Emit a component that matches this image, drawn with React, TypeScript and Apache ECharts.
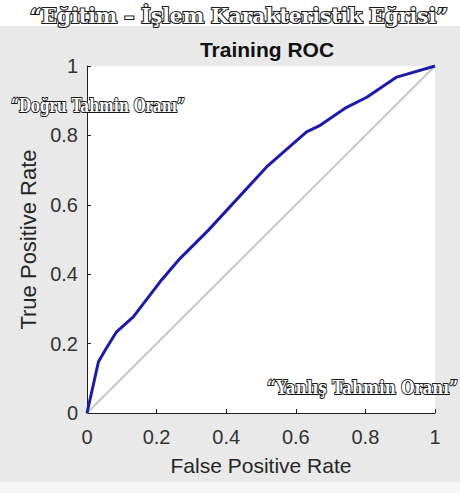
import React, { useEffect, useRef } from "react";
import * as echarts from "echarts";

const fpr = [0, 0.033, 0.052, 0.085, 0.133, 0.21, 0.267, 0.349, 0.516, 0.631, 0.67, 0.746, 0.804, 0.89, 1];
const tpr = [0, 0.148, 0.181, 0.234, 0.277, 0.378, 0.445, 0.527, 0.709, 0.81, 0.829, 0.881, 0.91, 0.968, 1];
const diagX = [0, 1];
const diagY = [0, 1];
const titleText = "Training ROC";
const xName = "False Positive Rate";
const yName = "True Positive Rate";
const topNote = "\u201cE\u011fitim \u2013 \u0130\u015flem Karakteristik E\u011frisi\u201d";
const leftNote = "\u201cDo\u011fru Tahmin Oran\u0131\u201d";
const bottomNote = "\u201cYanl\u0131\u015f Tahmin Oran\u0131\u201d";

const sans = "'Liberation Sans', Arial, sans-serif";
const noteFamily = "'DejaVu Serif', serif";

function measure(text: string, size: number): number {
  const ctx = document.createElement("canvas").getContext("2d");
  if (!ctx) return text.length * size * 0.6;
  ctx.font = `bold ${size}px ${noteFamily}`;
  return ctx.measureText(text).width;
}

export default function App() {
  const ref = useRef<HTMLDivElement>(null);
  useEffect(() => {
    if (!ref.current) return;
    const chart = echarts.init(ref.current, null, { renderer: "svg" });
    const note = (text: string, x: number, y: number, width: number, size: number) => ({
      type: "text",
      x,
      y,
      z: 10,
      scaleX: width / measure(text, size),
      style: {
        text,
        fontFamily: noteFamily,
        fontWeight: "bold",
        fontSize: size,
        fill: "#ffffff",
        stroke: "#1a1a1a",
        lineWidth: 2.2,
        textAlign: "left",
        textVerticalAlign: "middle",
        shadowColor: "rgba(0,0,0,0.35)",
        shadowBlur: 2,
        shadowOffsetX: 1,
        shadowOffsetY: 1,
      },
    });
    chart.setOption({
      animation: false,
      backgroundColor: "#e9e9e9",
      title: {
        text: titleText,
        left: 262,
        top: 34,
        textAlign: "center",
        textStyle: { fontFamily: sans, fontSize: 21, fontWeight: "bold", color: "#111" },
      },
      grid: { left: 87, top: 66, right: 25, bottom: 80, show: true, backgroundColor: "#ffffff", borderWidth: 0 },
      xAxis: {
        type: "value",
        min: 0,
        max: 1,
        interval: 0.2,
        name: xName,
        nameLocation: "middle",
        nameGap: 42,
        nameTextStyle: { fontFamily: sans, fontSize: 21, color: "#262626" },
        axisLine: { show: true, lineStyle: { color: "#222", width: 1 } },
        axisTick: { show: true, inside: true, length: 4, lineStyle: { color: "#222" } },
        axisLabel: { margin: 14, fontFamily: sans, fontSize: 20, color: "#333", formatter: (v: number) => String(Math.round(v * 10) / 10) },
        splitLine: { show: false },
      },
      yAxis: {
        type: "value",
        min: 0,
        max: 1,
        interval: 0.2,
        name: yName,
        nameLocation: "middle",
        nameGap: 47,
        nameTextStyle: { fontFamily: sans, fontSize: 22, color: "#262626" },
        axisLine: { show: true, lineStyle: { color: "#222", width: 1 } },
        axisTick: { show: true, inside: true, length: 4, lineStyle: { color: "#222" } },
        axisLabel: { margin: 9, fontFamily: sans, fontSize: 20, color: "#333", formatter: (v: number) => String(Math.round(v * 10) / 10) },
        splitLine: { show: false },
      },
      series: [
        {
          type: "line",
          data: diagX.map((x, i) => [x, diagY[i]]),
          symbol: "none",
          lineStyle: { color: "#c8c8c8", width: 2 },
          z: 1,
        },
        {
          type: "line",
          data: fpr.map((x, i) => [x, tpr[i]]),
          symbol: "none",
          lineStyle: { color: "#1c1ca8", width: 3 },
          z: 2,
        },
      ],
      graphic: [
        { type: "rect", x: 0, y: 0, z: -1, shape: { width: 460, height: 26 }, style: { fill: "#ffffff" } },
        { type: "rect", x: 0, y: 482, z: -1, shape: { width: 460, height: 11 }, style: { fill: "#f7f7f7" } },
        note(topNote, 30, 16, 418, 20),
        note(leftNote, 11, 105, 174, 19),
        note(bottomNote, 267, 387, 191, 19),
      ],
    });
    return () => chart.dispose();
  }, []);
  return <div ref={ref} style={{ position: "fixed", left: 0, top: 0, width: 460, height: 493 }} />;
}
